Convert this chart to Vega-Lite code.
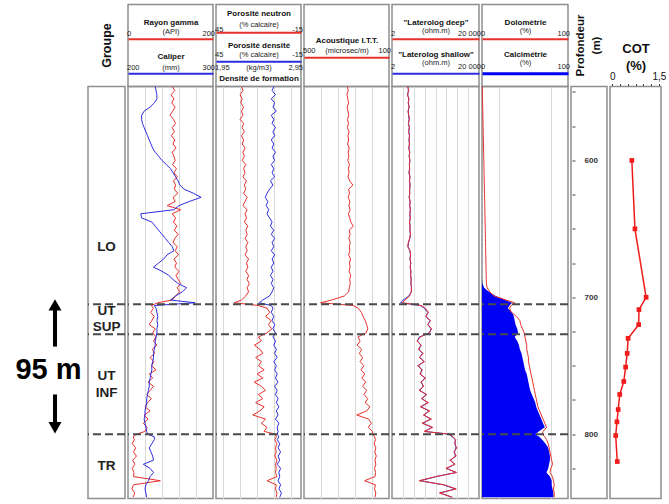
{
  "$schema": "https://vega.github.io/schema/vega-lite/v6.json",
  "padding": {"left": 0, "top": 3.5, "right": 0, "bottom": 0},
  "background": "white",
  "datasets": {
    "logs": [
      {"d":546,"gr":104,"cal":232,"nphi":27,"rhob":2.63,"dt":296,"lld":10.5,"lls":10.8,"dolo":0.3,"calc":0},
      {"d":549,"gr":110,"cal":233,"nphi":26,"rhob":2.61,"dt":292,"lld":11.8,"lls":11.3,"dolo":0.4,"calc":0},
      {"d":552,"gr":101,"cal":234,"nphi":28,"rhob":2.65,"dt":298,"lld":10.2,"lls":10.6,"dolo":0.5,"calc":0},
      {"d":555,"gr":108,"cal":234,"nphi":26.5,"rhob":2.60,"dt":294,"lld":12.1,"lls":11.7,"dolo":0.6,"calc":0},
      {"d":558,"gr":103,"cal":231,"nphi":27.5,"rhob":2.64,"dt":290,"lld":11,"lls":11.4,"dolo":0.7,"calc":0},
      {"d":561,"gr":111,"cal":226,"nphi":25.5,"rhob":2.62,"dt":297,"lld":12.5,"lls":12,"dolo":0.8,"calc":0},
      {"d":564,"gr":105,"cal":219,"nphi":27,"rhob":2.66,"dt":293,"lld":10.8,"lls":11.2,"dolo":0.9,"calc":0},
      {"d":567,"gr":99,"cal":216,"nphi":26,"rhob":2.60,"dt":289,"lld":11.9,"lls":11.5,"dolo":1.0,"calc":0},
      {"d":570,"gr":107,"cal":216,"nphi":28,"rhob":2.63,"dt":295,"lld":12.6,"lls":12.2,"dolo":1.1,"calc":0},
      {"d":573,"gr":112,"cal":217,"nphi":25.5,"rhob":2.61,"dt":291,"lld":11.2,"lls":11.6,"dolo":1.2,"calc":0},
      {"d":576,"gr":104,"cal":219,"nphi":26.5,"rhob":2.65,"dt":296,"lld":12.8,"lls":12.3,"dolo":1.3,"calc":0},
      {"d":579,"gr":109,"cal":221,"nphi":25,"rhob":2.62,"dt":288,"lld":11.5,"lls":11.9,"dolo":1.4,"calc":0},
      {"d":582,"gr":102,"cal":223,"nphi":27,"rhob":2.64,"dt":293,"lld":13,"lls":12.6,"dolo":1.5,"calc":0},
      {"d":585,"gr":110,"cal":225,"nphi":25.5,"rhob":2.60,"dt":290,"lld":12,"lls":12.3,"dolo":1.6,"calc":0},
      {"d":588,"gr":106,"cal":227,"nphi":26.5,"rhob":2.63,"dt":295,"lld":12.9,"lls":12.5,"dolo":1.7,"calc":0},
      {"d":591,"gr":113,"cal":229,"nphi":24.5,"rhob":2.61,"dt":287,"lld":11.7,"lls":12.1,"dolo":1.8,"calc":0},
      {"d":594,"gr":104,"cal":232,"nphi":26,"rhob":2.65,"dt":292,"lld":13.2,"lls":12.8,"dolo":1.9,"calc":0},
      {"d":597,"gr":108,"cal":236,"nphi":25,"rhob":2.62,"dt":289,"lld":12.2,"lls":12.5,"dolo":2.0,"calc":0},
      {"d":600,"gr":111,"cal":240,"nphi":26.5,"rhob":2.64,"dt":294,"lld":13.5,"lls":13.1,"dolo":2.1,"calc":0},
      {"d":603,"gr":105,"cal":245,"nphi":24,"rhob":2.60,"dt":286,"lld":12.4,"lls":12.8,"dolo":2.2,"calc":0},
      {"d":606,"gr":114,"cal":250,"nphi":25.5,"rhob":2.63,"dt":291,"lld":13.1,"lls":12.7,"dolo":2.3,"calc":0},
      {"d":609,"gr":108,"cal":253,"nphi":24.5,"rhob":2.61,"dt":288,"lld":11.9,"lls":12.3,"dolo":2.4,"calc":0},
      {"d":612,"gr":116,"cal":256,"nphi":26,"rhob":2.64,"dt":293,"lld":13.6,"lls":13.2,"dolo":2.5,"calc":0},
      {"d":615,"gr":107,"cal":259,"nphi":23.5,"rhob":2.59,"dt":285,"lld":12.5,"lls":12.9,"dolo":2.6,"calc":0},
      {"d":618,"gr":112,"cal":261,"nphi":25,"rhob":2.62,"dt":270,"lld":13.8,"lls":13.4,"dolo":2.7,"calc":0},
      {"d":621,"gr":109,"cal":266,"nphi":24,"rhob":2.58,"dt":290,"lld":12.7,"lls":13.1,"dolo":2.8,"calc":0},
      {"d":624,"gr":117,"cal":277,"nphi":25.5,"rhob":2.55,"dt":286,"lld":13.3,"lls":12.9,"dolo":2.9,"calc":0},
      {"d":627,"gr":106,"cal":286,"nphi":23,"rhob":2.53,"dt":292,"lld":12.1,"lls":12.5,"dolo":3.0,"calc":0},
      {"d":630,"gr":111,"cal":272,"nphi":24.5,"rhob":2.56,"dt":284,"lld":13.9,"lls":13.5,"dolo":3.1,"calc":0},
      {"d":633,"gr":92,"cal":260,"nphi":26,"rhob":2.54,"dt":289,"lld":12.8,"lls":13.2,"dolo":3.2,"calc":0},
      {"d":636,"gr":124,"cal":254,"nphi":23,"rhob":2.57,"dt":283,"lld":14.2,"lls":13.8,"dolo":3.3,"calc":0},
      {"d":639,"gr":104,"cal":215,"nphi":24.5,"rhob":2.55,"dt":291,"lld":13,"lls":13.4,"dolo":3.4,"calc":0},
      {"d":642,"gr":112,"cal":216,"nphi":23.5,"rhob":2.58,"dt":285,"lld":14,"lls":13.6,"dolo":3.5,"calc":0},
      {"d":645,"gr":107,"cal":228,"nphi":25,"rhob":2.61,"dt":280,"lld":12.6,"lls":13,"dolo":3.6,"calc":0},
      {"d":648,"gr":115,"cal":232,"nphi":22.5,"rhob":2.59,"dt":268,"lld":13.8,"lls":13.4,"dolo":3.7,"calc":0},
      {"d":651,"gr":109,"cal":236,"nphi":24,"rhob":2.63,"dt":287,"lld":13.1,"lls":13.5,"dolo":3.8,"calc":0},
      {"d":654,"gr":118,"cal":240,"nphi":23,"rhob":2.60,"dt":283,"lld":14.3,"lls":13.9,"dolo":3.9,"calc":0},
      {"d":657,"gr":110,"cal":244,"nphi":24.5,"rhob":2.64,"dt":289,"lld":12.9,"lls":13.3,"dolo":4.0,"calc":0},
      {"d":660,"gr":106,"cal":248,"nphi":22.5,"rhob":2.61,"dt":282,"lld":11.2,"lls":11.6,"dolo":4.1,"calc":0},
      {"d":663,"gr":116,"cal":252,"nphi":24,"rhob":2.63,"dt":287,"lld":10.5,"lls":10.9,"dolo":4.2,"calc":0},
      {"d":666,"gr":111,"cal":254,"nphi":23,"rhob":2.60,"dt":284,"lld":13.6,"lls":13.2,"dolo":4.3,"calc":0},
      {"d":669,"gr":119,"cal":246,"nphi":24.5,"rhob":2.64,"dt":290,"lld":14.5,"lls":14.1,"dolo":4.4,"calc":0},
      {"d":672,"gr":108,"cal":242,"nphi":22,"rhob":2.61,"dt":281,"lld":13.2,"lls":13.6,"dolo":4.5,"calc":0},
      {"d":675,"gr":114,"cal":236,"nphi":23.5,"rhob":2.63,"dt":286,"lld":14.8,"lls":14.4,"dolo":4.6,"calc":0},
      {"d":678,"gr":110,"cal":230,"nphi":22.5,"rhob":2.60,"dt":283,"lld":13.5,"lls":13.9,"dolo":4.7,"calc":0},
      {"d":681,"gr":120,"cal":240,"nphi":24,"rhob":2.62,"dt":288,"lld":15,"lls":14.6,"dolo":4.8,"calc":0},
      {"d":684,"gr":113,"cal":248,"nphi":22,"rhob":2.59,"dt":280,"lld":14.1,"lls":14.5,"dolo":4.9,"calc":0},
      {"d":687,"gr":118,"cal":253,"nphi":23,"rhob":2.62,"dt":285,"lld":15.5,"lls":15.1,"dolo":5.0,"calc":0},
      {"d":690,"gr":124,"cal":259,"nphi":21.5,"rhob":2.60,"dt":282,"lld":14.6,"lls":15,"dolo":5.2,"calc":0.5},
      {"d":693,"gr":116,"cal":269,"nphi":23,"rhob":2.63,"dt":287,"lld":16,"lls":15.6,"dolo":6,"calc":2.5},
      {"d":696,"gr":121,"cal":264,"nphi":22,"rhob":2.61,"dt":290,"lld":15.2,"lls":15.6,"dolo":9,"calc":8},
      {"d":699,"gr":112,"cal":256,"nphi":24,"rhob":2.58,"dt":310,"lld":13,"lls":12,"dolo":14,"calc":16},
      {"d":702,"gr":104,"cal":250,"nphi":27,"rhob":2.50,"dt":370,"lld":8,"lls":6.5,"dolo":28,"calc":27},
      {"d":704,"gr":70,"cal":279,"nphi":32,"rhob":2.46,"dt":422,"lld":6,"lls":5,"dolo":38,"calc":35},
      {"d":706,"gr":55,"cal":231,"nphi":15,"rhob":2.60,"dt":268,"lld":45,"lls":40,"dolo":34,"calc":32},
      {"d":708,"gr":60,"cal":233,"nphi":9,"rhob":2.62,"dt":245,"lld":68,"lls":62,"dolo":32,"calc":30},
      {"d":711,"gr":53,"cal":234,"nphi":7,"rhob":2.60,"dt":230,"lld":95,"lls":88,"dolo":34,"calc":35},
      {"d":714,"gr":62,"cal":235,"nphi":10,"rhob":2.63,"dt":222,"lld":70,"lls":75,"dolo":40,"calc":37},
      {"d":717,"gr":56,"cal":234,"nphi":6,"rhob":2.61,"dt":212,"lld":120,"lls":110,"dolo":44,"calc":38},
      {"d":720,"gr":50,"cal":235,"nphi":8,"rhob":2.64,"dt":205,"lld":85,"lls":92,"dolo":45,"calc":39},
      {"d":723,"gr":64,"cal":234,"nphi":5.5,"rhob":2.62,"dt":200,"lld":135,"lls":125,"dolo":47,"calc":41},
      {"d":726,"gr":58,"cal":234,"nphi":9,"rhob":2.65,"dt":208,"lld":100,"lls":108,"dolo":49,"calc":42},
      {"d":729,"gr":66,"cal":233,"nphi":15,"rhob":2.62,"dt":246,"lld":40,"lls":36,"dolo":50,"calc":38},
      {"d":732,"gr":60,"cal":232,"nphi":13,"rhob":2.65,"dt":236,"lld":28,"lls":30,"dolo":51,"calc":41},
      {"d":735,"gr":68,"cal":232,"nphi":18,"rhob":2.63,"dt":250,"lld":45,"lls":42,"dolo":52,"calc":43},
      {"d":738,"gr":57,"cal":231,"nphi":14,"rhob":2.66,"dt":228,"lld":32,"lls":35,"dolo":52,"calc":44},
      {"d":741,"gr":63,"cal":230,"nphi":12,"rhob":2.64,"dt":240,"lld":55,"lls":50,"dolo":53,"calc":46},
      {"d":744,"gr":52,"cal":230,"nphi":17,"rhob":2.67,"dt":224,"lld":36,"lls":39,"dolo":54,"calc":47},
      {"d":747,"gr":61,"cal":229,"nphi":13,"rhob":2.63,"dt":236,"lld":62,"lls":58,"dolo":54,"calc":48},
      {"d":750,"gr":55,"cal":228,"nphi":15,"rhob":2.66,"dt":218,"lld":30,"lls":33,"dolo":55,"calc":49},
      {"d":753,"gr":66,"cal":228,"nphi":11,"rhob":2.64,"dt":232,"lld":50,"lls":46,"dolo":56,"calc":50},
      {"d":756,"gr":50,"cal":227,"nphi":16,"rhob":2.67,"dt":214,"lld":38,"lls":41,"dolo":57,"calc":52},
      {"d":759,"gr":58,"cal":226,"nphi":12,"rhob":2.65,"dt":228,"lld":70,"lls":64,"dolo":58,"calc":53},
      {"d":762,"gr":47,"cal":225,"nphi":18,"rhob":2.68,"dt":210,"lld":42,"lls":45,"dolo":59,"calc":54},
      {"d":765,"gr":60,"cal":225,"nphi":13,"rhob":2.64,"dt":224,"lld":58,"lls":54,"dolo":60,"calc":55},
      {"d":768,"gr":52,"cal":224,"nphi":10,"rhob":2.67,"dt":205,"lld":35,"lls":38,"dolo":61,"calc":56},
      {"d":771,"gr":44,"cal":223,"nphi":15,"rhob":2.65,"dt":218,"lld":80,"lls":74,"dolo":62,"calc":58},
      {"d":774,"gr":55,"cal":222,"nphi":12,"rhob":2.68,"dt":200,"lld":45,"lls":48,"dolo":63,"calc":60},
      {"d":777,"gr":46,"cal":222,"nphi":17,"rhob":2.66,"dt":212,"lld":95,"lls":88,"dolo":64,"calc":62},
      {"d":780,"gr":40,"cal":221,"nphi":11,"rhob":2.69,"dt":190,"lld":40,"lls":43,"dolo":65,"calc":63},
      {"d":783,"gr":52,"cal":220,"nphi":14,"rhob":2.66,"dt":205,"lld":110,"lls":100,"dolo":67,"calc":65},
      {"d":786,"gr":38,"cal":220,"nphi":19,"rhob":2.68,"dt":252,"lld":55,"lls":59,"dolo":69,"calc":67},
      {"d":789,"gr":47,"cal":219,"nphi":10,"rhob":2.65,"dt":196,"lld":130,"lls":120,"dolo":71,"calc":69},
      {"d":792,"gr":36,"cal":220,"nphi":13,"rhob":2.69,"dt":183,"lld":48,"lls":52,"dolo":73,"calc":71},
      {"d":795,"gr":45,"cal":221,"nphi":9,"rhob":2.67,"dt":198,"lld":150,"lls":138,"dolo":75,"calc":73},
      {"d":798,"gr":40,"cal":222,"nphi":11,"rhob":2.68,"dt":178,"lld":60,"lls":65,"dolo":71,"calc":66},
      {"d":800,"gr":20,"cal":223,"nphi":3,"rhob":2.67,"dt":175,"lld":900,"lls":800,"dolo":70,"calc":62},
      {"d":802,"gr":12,"cal":231,"nphi":2.5,"rhob":2.69,"dt":168,"lld":1300,"lls":1200,"dolo":73,"calc":67},
      {"d":804,"gr":15,"cal":231,"nphi":3.5,"rhob":2.67,"dt":164,"lld":1700,"lls":1600,"dolo":75,"calc":70},
      {"d":807,"gr":10,"cal":228,"nphi":2,"rhob":2.70,"dt":170,"lld":1500,"lls":1600,"dolo":77,"calc":74},
      {"d":810,"gr":18,"cal":225,"nphi":3,"rhob":2.68,"dt":162,"lld":1900,"lls":1750,"dolo":78,"calc":77},
      {"d":813,"gr":13,"cal":227,"nphi":2.5,"rhob":2.71,"dt":167,"lld":1400,"lls":1500,"dolo":79,"calc":78},
      {"d":816,"gr":20,"cal":229,"nphi":3.5,"rhob":2.68,"dt":160,"lld":1800,"lls":1650,"dolo":80,"calc":79},
      {"d":819,"gr":11,"cal":230,"nphi":2,"rhob":2.70,"dt":166,"lld":900,"lls":1000,"dolo":81,"calc":79},
      {"d":822,"gr":16,"cal":218,"nphi":3,"rhob":2.67,"dt":162,"lld":1600,"lls":1500,"dolo":82,"calc":78},
      {"d":825,"gr":10,"cal":226,"nphi":2.5,"rhob":2.71,"dt":168,"lld":600,"lls":650,"dolo":80,"calc":77},
      {"d":828,"gr":14,"cal":230,"nphi":3,"rhob":2.69,"dt":163,"lld":1900,"lls":1750,"dolo":79,"calc":75},
      {"d":831,"gr":13,"cal":226,"nphi":2,"rhob":2.70,"dt":166,"lld":200,"lls":220,"dolo":82,"calc":79},
      {"d":834,"gr":76,"cal":224,"nphi":9,"rhob":2.68,"dt":215,"lld":35,"lls":40,"dolo":83,"calc":81},
      {"d":837,"gr":13,"cal":221,"nphi":2.5,"rhob":2.71,"dt":164,"lld":500,"lls":450,"dolo":84,"calc":81},
      {"d":840,"gr":9,"cal":220,"nphi":3,"rhob":2.69,"dt":168,"lld":1800,"lls":1650,"dolo":83,"calc":82},
      {"d":843,"gr":16,"cal":221,"nphi":2,"rhob":2.72,"dt":162,"lld":300,"lls":330,"dolo":84,"calc":83},
      {"d":846,"gr":12,"cal":222,"nphi":2.5,"rhob":2.70,"dt":166,"lld":1200,"lls":1100,"dolo":84,"calc":83}
    ],
    "tops": [{"d": 705}, {"d": 727}, {"d": 800}],
    "units": [
      {"name": "LO", "d": 663},
      {"name": "UT SUP", "d": 709.7},
      {"name": "UT INF", "d": 757.7},
      {"name": "TR", "d": 823.5}
    ],
    "cot": [
      {"d": 600, "cot": 0.63}, {"d": 650, "cot": 0.73}, {"d": 700, "cot": 1.09},
      {"d": 709, "cot": 0.86}, {"d": 720, "cot": 0.85}, {"d": 730, "cot": 0.51},
      {"d": 741, "cot": 0.48}, {"d": 751, "cot": 0.43}, {"d": 761.5, "cot": 0.37},
      {"d": 771, "cot": 0.24}, {"d": 782, "cot": 0.19}, {"d": 791, "cot": 0.15},
      {"d": 801, "cot": 0.11}, {"d": 820, "cot": 0.16}
    ],
    "interval": [{"label": "95 m", "d": 753.1, "top": 705, "base": 800}],
    "arrows": [
      {"dir": "up", "from": 736, "to": 705.6},
      {"dir": "down", "from": 771, "to": 795.3}
    ]
  },
  "columns": 9,
  "spacing": {"row": 0, "column": 3},
  "bounds": "flush",
  "align": "each",
  "concat": [
    {"width": 85, "height": 82, "view": {"stroke": null}, "data": {"values": [{}]}, "mark": {"type": "text", "text": ""}},
    {"width": 37, "height": 82, "data": {"values": [{}]},
     "mark": {"type": "text", "text": "Groupe", "angle": 270, "fontSize": 12.5, "fontWeight": "bold", "color": "#111"}},
    {"width": 85, "height": 82, "data": {"name": "logs"},
     "layer": [
       {"mark": {"type": "point", "opacity": 0, "size": 0},
        "encoding": {"y": {"field": "d", "type": "quantitative", "scale": {"domain": [0, 1400], "nice": false, "zero": false}, "axis": null},
          "x": {"field": "gr", "type": "quantitative", "scale": {"domain": [0, 200], "nice": false, "zero": false},
          "axis": {"orient": "top", "offset": -34.3, "values": [0, 100, 200], "labelExpr": "datum.value == 100 ? '(API)' : datum.label",
            "labelLineHeight": 9, "labelBaseline": {"condition": {"test": "datum.value == 100", "value": "line-bottom"}, "value": "alphabetic"},
            "labelFlush": true, "labelFlushOffset": 1.5, "labelOverlap": false, "labelPadding": 3.6,
            "ticks": false, "tickSize": 0, "grid": false, "domainColor": "#e8302c", "domainWidth": 2,
            "title": "Rayon gamma", "titleBaseline": "alphabetic", "titleY": -14.7}}}},
       {"mark": {"type": "point", "opacity": 0, "size": 0},
        "encoding": {"y": {"field": "d", "type": "quantitative"},
          "x": {"field": "cal", "type": "quantitative", "scale": {"domain": [200, 300], "nice": false, "zero": false},
          "axis": {"orient": "top", "offset": -68.7, "values": [200, 250, 300], "labelExpr": "datum.value == 250 ? '(mm)' : datum.label",
            "labelFlush": true, "labelFlushOffset": 1.5, "labelOverlap": false, "labelBaseline": "alphabetic", "labelPadding": 4,
            "ticks": false, "tickSize": 0, "grid": false, "domainColor": "#2d2de0", "domainWidth": 2,
            "title": "Caliper", "titleBaseline": "alphabetic", "titleY": -14.8}}}}
     ],
     "resolve": {"scale": {"x": "independent"}, "axis": {"x": "independent"}}},
    {"width": 85, "height": 82, "data": {"name": "logs"},
     "layer": [
       {"mark": {"type": "point", "opacity": 0, "size": 0},
        "encoding": {"y": {"field": "d", "type": "quantitative", "scale": {"domain": [0, 1400], "nice": false, "zero": false}, "axis": null},
          "x": {"field": "nphi", "type": "quantitative", "scale": {"domain": [-15, 45], "reverse": true, "nice": false, "zero": false},
          "axis": {"orient": "top", "offset": -27.7, "values": [-15, 15, 45], "labelExpr": "datum.value == 15 ? '(% calcaire)' : (datum.value < 0 ? '-15' : '45')",
            "labelLineHeight": 14.5, "labelBaseline": {"condition": {"test": "datum.value == 15", "value": "line-bottom"}, "value": "alphabetic"},
            "labelFlush": true, "labelFlushOffset": 1.5, "labelOverlap": false, "labelPadding": 1.2,
            "ticks": false, "tickSize": 0, "grid": false, "domainColor": "#e8302c", "domainWidth": 2,
            "title": "Porosité neutron", "titleBaseline": "alphabetic", "titleY": -16.3}}}},
       {"mark": {"type": "point", "opacity": 0, "size": 0},
        "encoding": {"y": {"field": "d", "type": "quantitative"},
          "x": {"field": "rhob", "type": "quantitative", "scale": {"domain": [1.95, 2.95], "nice": false, "zero": false},
          "axis": {"orient": "top", "offset": -56.7, "values": [1.95, 2.45, 2.95], "labelExpr": "datum.value < 2.2 ? '45' : (datum.value > 2.7 ? '-15' : '(% calcaire)')",
            "labelFlush": true, "labelFlushOffset": 1.5, "labelOverlap": false, "labelBaseline": "alphabetic", "labelPadding": 4.5,
            "ticks": false, "tickSize": 0, "grid": false, "domainColor": "#2d2de0", "domainWidth": 2,
            "title": "Porosité densité", "titleBaseline": "alphabetic", "titleY": -13.5}}}},
       {"mark": {"type": "point", "opacity": 0, "size": 0},
        "encoding": {"y": {"field": "d", "type": "quantitative"},
          "x": {"field": "rhob", "type": "quantitative", "scale": {"domain": [1.95, 2.95], "nice": false, "zero": false},
          "axis": {"orient": "bottom", "offset": -25.3, "values": [1.95, 2.45, 2.95], "labelExpr": "datum.value < 2.2 ? '1,95' : (datum.value > 2.7 ? '2,95' : '(kg/m3)')",
            "labelFlush": true, "labelFlushOffset": 1.5, "labelOverlap": false, "labelBaseline": "alphabetic", "labelPadding": 8.7,
            "ticks": false, "tickSize": 0, "grid": false, "domain": false,
            "title": "Densité de formation", "titleBaseline": "alphabetic", "titleY": 18.9}}}}
     ],
     "resolve": {"scale": {"x": "independent"}, "axis": {"x": "independent"}}},
    {"width": 85, "height": 82, "data": {"name": "logs"},
     "mark": {"type": "point", "opacity": 0, "size": 0},
     "encoding": {"y": {"field": "d", "type": "quantitative", "scale": {"domain": [0, 1400], "nice": false, "zero": false}, "axis": null},
       "x": {"field": "dt", "type": "quantitative", "scale": {"domain": [100, 500], "reverse": true, "nice": false, "zero": false},
       "axis": {"orient": "top", "offset": -52.7, "values": [100, 300, 500], "labelExpr": "datum.value == 300 ? '(microsec/m)' : datum.label",
         "labelFlush": true, "labelFlushOffset": 1.5, "labelOverlap": false, "labelBaseline": "alphabetic", "labelPadding": 4.7,
         "ticks": false, "tickSize": 0, "grid": false, "domainColor": "#e8302c", "domainWidth": 2,
         "title": "Acoustique I.T.T.", "titleBaseline": "alphabetic", "titleY": -14.5}}}},
    {"width": 87, "height": 82, "data": {"name": "logs"},
     "layer": [
       {"mark": {"type": "point", "opacity": 0, "size": 0},
        "encoding": {"y": {"field": "d", "type": "quantitative", "scale": {"domain": [0, 1400], "nice": false, "zero": false}, "axis": null},
          "x": {"field": "lld", "type": "quantitative", "scale": {"type": "log", "domain": [2, 20000], "nice": false},
          "axis": {"orient": "top", "offset": -34.3, "values": [2, 200, 20000], "labelExpr": "datum.value == 200 ? '(ohm.m)' : (datum.value > 1000 ? '20 000' : '2')",
            "labelLineHeight": 11, "labelBaseline": {"condition": {"test": "datum.value == 200", "value": "line-bottom"}, "value": "alphabetic"},
            "labelFlush": true, "labelFlushOffset": 1.5, "labelOverlap": false, "labelPadding": 3.3,
            "ticks": false, "tickSize": 0, "grid": false, "domainColor": "#e8302c", "domainWidth": 2,
            "title": "\"Laterolog deep\"", "titleBaseline": "alphabetic", "titleY": -14.7}}}},
       {"mark": {"type": "point", "opacity": 0, "size": 0},
        "encoding": {"y": {"field": "d", "type": "quantitative"},
          "x": {"field": "lls", "type": "quantitative", "scale": {"type": "log", "domain": [2, 20000], "nice": false},
          "axis": {"orient": "top", "offset": -68.7, "values": [2, 200, 20000], "labelExpr": "datum.value == 200 ? '(ohm.m)' : (datum.value > 1000 ? '20 000' : '2')",
            "labelLineHeight": 12, "labelBaseline": {"condition": {"test": "datum.value == 200", "value": "line-bottom"}, "value": "alphabetic"},
            "labelFlush": true, "labelFlushOffset": 1.5, "labelOverlap": false, "labelPadding": 4.3,
            "ticks": false, "tickSize": 0, "grid": false, "domainColor": "#2d2de0", "domainWidth": 2,
            "title": "\"Laterolog shallow\"", "titleBaseline": "alphabetic", "titleY": -16.3}}}}
     ],
     "resolve": {"scale": {"x": "independent"}, "axis": {"x": "independent"}}},
    {"width": 86, "height": 82, "data": {"name": "logs"},
     "layer": [
       {"mark": {"type": "point", "opacity": 0, "size": 0},
        "encoding": {"y": {"field": "d", "type": "quantitative", "scale": {"domain": [0, 1400], "nice": false, "zero": false}, "axis": null},
          "x": {"field": "dolo", "type": "quantitative", "scale": {"domain": [0, 100], "nice": false, "zero": false},
          "axis": {"orient": "top", "offset": -34.3, "values": [0, 50, 100], "labelExpr": "datum.value == 50 ? '(%)' : datum.label",
            "labelLineHeight": 11, "labelBaseline": {"condition": {"test": "datum.value == 50", "value": "line-bottom"}, "value": "alphabetic"},
            "labelFlush": true, "labelFlushOffset": 1.5, "labelOverlap": false, "labelPadding": 3.3,
            "ticks": false, "tickSize": 0, "grid": false, "domainColor": "#e8302c", "domainWidth": 2,
            "title": "Dolomètrie", "titleBaseline": "alphabetic", "titleY": -14.7}}}},
       {"mark": {"type": "point", "opacity": 0, "size": 0},
        "encoding": {"y": {"field": "d", "type": "quantitative"},
          "x": {"field": "calc", "type": "quantitative", "scale": {"domain": [0, 100], "nice": false, "zero": false},
          "axis": {"orient": "top", "offset": -68.7, "values": [0, 50, 100], "labelExpr": "datum.value == 50 ? '(%)' : datum.label",
            "labelLineHeight": 12, "labelBaseline": {"condition": {"test": "datum.value == 50", "value": "line-bottom"}, "value": "alphabetic"},
            "labelFlush": true, "labelFlushOffset": 1.5, "labelOverlap": false, "labelPadding": 4.3,
            "ticks": false, "tickSize": 0, "grid": false, "domainColor": "#0000f5", "domainWidth": 3,
            "title": "Calcimétrie", "titleBaseline": "alphabetic", "titleY": -16.3}}}}
     ],
     "resolve": {"scale": {"x": "independent"}, "axis": {"x": "independent"}}},
    {"width": 36, "height": 82, "data": {"values": [{}]},
     "mark": {"type": "text", "text": ["Profondeur", "(m)"], "angle": 270, "fontSize": 11.5, "fontWeight": "bold", "lineHeight": 15.7, "dy": -7.8, "color": "#111"}},
    {"width": 51, "height": 82, "view": {"stroke": null}, "data": {"name": "cot"},
     "mark": {"type": "point", "opacity": 0, "size": 0},
     "encoding": {"y": {"field": "d", "type": "quantitative", "scale": {"domain": [0, 1400], "nice": false, "zero": false}, "axis": null},
       "x": {"field": "cot", "type": "quantitative", "scale": {"domain": [-0.074, 1.57], "nice": false, "zero": false},
       "axis": {"orient": "top", "offset": -82, "values": [0, 0.25, 0.5, 0.75, 1, 1.25, 1.5],
         "labelExpr": "datum.value == 0 ? '0' : (datum.value == 1.5 ? '1,5' : '')",
         "domain": false, "ticks": true, "tickSize": 3, "tickColor": "#333", "tickWidth": 1,
         "labelFontSize": 10, "labelColor": "#111", "labelBaseline": "alphabetic", "labelPadding": 4.4, "labelFlush": false, "labelOverlap": false, "grid": false,
         "title": ["COT", "(%)"], "titleFontSize": 13, "titleLineHeight": 17, "titleBaseline": "alphabetic", "titleY": -34.3}}}},

    {"width": 85, "height": 412, "view": {"stroke": null},
     "layer": [
       {"data": {"name": "arrows"}, "mark": {"type": "rule", "strokeWidth": 4, "color": "#000", "xOffset": 12.5},
        "encoding": {"y": {"field": "from", "type": "quantitative", "scale": {"domain": [546, 847], "reverse": true, "nice": false, "zero": false}, "axis": null},
                     "y2": {"field": "to"}}},
       {"data": {"name": "arrows"}, "mark": {"type": "point", "filled": true, "opacity": 1, "color": "#000", "size": 170, "xOffset": 12.5},
        "encoding": {"y": {"field": "to", "type": "quantitative", "scale": {"domain": [546, 847], "reverse": true, "nice": false, "zero": false}, "axis": null},
                     "shape": {"field": "dir", "type": "nominal", "scale": {"domain": ["up", "down"], "range": ["triangle-up", "triangle-down"]}, "legend": null}}},
       {"data": {"name": "interval"}, "mark": {"type": "text", "fontSize": 29, "fontWeight": "bold", "dx": 6, "color": "#000"},
        "encoding": {"y": {"field": "d", "type": "quantitative", "scale": {"domain": [546, 847], "reverse": true, "nice": false, "zero": false}, "axis": null},
                     "text": {"field": "label"}}}
     ]},
    {"width": 37, "height": 412,
     "layer": [
       {"data": {"name": "tops"}, "mark": {"type": "rule", "strokeDash": [8, 4], "strokeWidth": 2, "color": "#4a4a4a"},
        "encoding": {"y": {"field": "d", "type": "quantitative", "scale": {"domain": [546, 847], "reverse": true, "nice": false, "zero": false}, "axis": null}}},
       {"data": {"name": "units"}, "mark": {"type": "text", "fontSize": 13.5, "fontWeight": "bold", "lineBreak": " ", "lineHeight": 16.5, "color": "#222"},
        "encoding": {"y": {"field": "d", "type": "quantitative", "scale": {"domain": [546, 847], "reverse": true, "nice": false, "zero": false}, "axis": null},
                     "text": {"field": "name"}}}
     ]},
    {"width": 85, "height": 412,
     "layer": [
       {"data": {"name": "logs"}, "mark": {"type": "line", "color": "#e8302c", "strokeWidth": 1},
        "encoding": {"y": {"field": "d", "type": "quantitative", "scale": {"domain": [546, 847], "reverse": true, "nice": false, "zero": false}, "axis": null},
                     "x": {"field": "gr", "type": "quantitative", "scale": {"domain": [0, 200], "nice": false, "zero": false},
                           "axis": {"orient": "top", "grid": true, "values": [40, 80, 120, 160], "labels": false, "ticks": false, "domain": false, "title": null, "gridColor": "#d9d9d9"}},
                     "order": {"field": "d", "type": "quantitative"}}},
       {"data": {"name": "logs"}, "mark": {"type": "line", "color": "#2d2de0", "strokeWidth": 1},
        "encoding": {"y": {"field": "d", "type": "quantitative", "scale": {"domain": [546, 847], "reverse": true, "nice": false, "zero": false}, "axis": null},
                     "x": {"field": "cal", "type": "quantitative", "scale": {"domain": [200, 300], "nice": false, "zero": false}, "axis": null},
                     "order": {"field": "d", "type": "quantitative"}}},
       {"data": {"name": "tops"}, "mark": {"type": "rule", "strokeDash": [8, 4], "strokeWidth": 2, "color": "#4a4a4a"},
        "encoding": {"y": {"field": "d", "type": "quantitative", "scale": {"domain": [546, 847], "reverse": true, "nice": false, "zero": false}, "axis": null}}}
     ],
     "resolve": {"scale": {"x": "independent"}, "axis": {"x": "independent"}}},
    {"width": 85, "height": 412,
     "layer": [
       {"data": {"name": "logs"}, "mark": {"type": "line", "color": "#e8302c", "strokeWidth": 1},
        "encoding": {"y": {"field": "d", "type": "quantitative", "scale": {"domain": [546, 847], "reverse": true, "nice": false, "zero": false}, "axis": null},
                     "x": {"field": "nphi", "type": "quantitative", "scale": {"domain": [-15, 45], "reverse": true, "nice": false, "zero": false},
                           "axis": {"orient": "top", "grid": true, "values": [40, 28, 16, 4, -8], "labels": false, "ticks": false, "domain": false, "title": null, "gridColor": "#d9d9d9"}},
                     "order": {"field": "d", "type": "quantitative"}}},
       {"data": {"name": "logs"}, "mark": {"type": "line", "color": "#2d2de0", "strokeWidth": 1},
        "encoding": {"y": {"field": "d", "type": "quantitative", "scale": {"domain": [546, 847], "reverse": true, "nice": false, "zero": false}, "axis": null},
                     "x": {"field": "rhob", "type": "quantitative", "scale": {"domain": [1.95, 2.95], "nice": false, "zero": false}, "axis": null},
                     "order": {"field": "d", "type": "quantitative"}}},
       {"data": {"name": "tops"}, "mark": {"type": "rule", "strokeDash": [8, 4], "strokeWidth": 2, "color": "#4a4a4a"},
        "encoding": {"y": {"field": "d", "type": "quantitative", "scale": {"domain": [546, 847], "reverse": true, "nice": false, "zero": false}, "axis": null}}}
     ],
     "resolve": {"scale": {"x": "independent"}, "axis": {"x": "independent"}}},
    {"width": 85, "height": 412,
     "layer": [
       {"data": {"name": "logs"}, "mark": {"type": "line", "color": "#e8302c", "strokeWidth": 1},
        "encoding": {"y": {"field": "d", "type": "quantitative", "scale": {"domain": [546, 847], "reverse": true, "nice": false, "zero": false}, "axis": null},
                     "x": {"field": "dt", "type": "quantitative", "scale": {"domain": [100, 500], "reverse": true, "nice": false, "zero": false},
                           "axis": {"orient": "top", "grid": true, "values": [420, 340, 260, 180], "labels": false, "ticks": false, "domain": false, "title": null, "gridColor": "#d9d9d9"}},
                     "order": {"field": "d", "type": "quantitative"}}},
       {"data": {"name": "tops"}, "mark": {"type": "rule", "strokeDash": [8, 4], "strokeWidth": 2, "color": "#4a4a4a"},
        "encoding": {"y": {"field": "d", "type": "quantitative", "scale": {"domain": [546, 847], "reverse": true, "nice": false, "zero": false}, "axis": null}}}
     ]},
    {"width": 87, "height": 412,
     "layer": [
       {"data": {"name": "logs"}, "mark": {"type": "line", "color": "#2d2de0", "strokeWidth": 1},
        "encoding": {"y": {"field": "d", "type": "quantitative", "scale": {"domain": [546, 847], "reverse": true, "nice": false, "zero": false}, "axis": null},
                     "x": {"field": "lls", "type": "quantitative", "scale": {"type": "log", "domain": [2, 20000], "nice": false},
                           "axis": {"orient": "top", "grid": true, "values": [6.32, 20, 63.2, 200, 632, 2000, 6320], "labels": false, "ticks": false, "domain": false, "title": null, "gridColor": "#dcdcdc"}},
                     "order": {"field": "d", "type": "quantitative"}}},
       {"data": {"name": "logs"}, "mark": {"type": "line", "color": "#e8302c", "strokeWidth": 1},
        "encoding": {"y": {"field": "d", "type": "quantitative", "scale": {"domain": [546, 847], "reverse": true, "nice": false, "zero": false}, "axis": null},
                     "x": {"field": "lld", "type": "quantitative"},
                     "order": {"field": "d", "type": "quantitative"}}},
       {"data": {"name": "tops"}, "mark": {"type": "rule", "strokeDash": [8, 4], "strokeWidth": 2, "color": "#4a4a4a"},
        "encoding": {"y": {"field": "d", "type": "quantitative", "scale": {"domain": [546, 847], "reverse": true, "nice": false, "zero": false}, "axis": null}}}
     ]},
    {"width": 86, "height": 412,
     "layer": [
       {"data": {"name": "logs"}, "mark": {"type": "area", "orient": "horizontal", "color": "#0000f5"},
        "encoding": {"y": {"field": "d", "type": "quantitative", "scale": {"domain": [546, 847], "reverse": true, "nice": false, "zero": false}, "axis": null},
                     "x": {"field": "calc", "type": "quantitative", "scale": {"domain": [0, 100], "nice": false, "zero": true},
                           "axis": {"orient": "top", "grid": true, "values": [20, 40, 60, 80], "labels": false, "ticks": false, "domain": false, "title": null, "gridColor": "#d9d9d9"}}}},
       {"data": {"name": "logs"}, "mark": {"type": "line", "color": "#e8302c", "strokeWidth": 1},
        "encoding": {"y": {"field": "d", "type": "quantitative", "scale": {"domain": [546, 847], "reverse": true, "nice": false, "zero": false}, "axis": null},
                     "x": {"field": "dolo", "type": "quantitative"},
                     "order": {"field": "d", "type": "quantitative"}}},
       {"data": {"name": "tops"}, "mark": {"type": "rule", "strokeDash": [8, 4], "strokeWidth": 2, "color": "#4a4a4a"},
        "encoding": {"y": {"field": "d", "type": "quantitative", "scale": {"domain": [546, 847], "reverse": true, "nice": false, "zero": false}, "axis": null}}}
     ]},
    {"width": 36, "height": 412, "data": {"name": "tops"},
     "mark": {"type": "rule", "opacity": 0},
     "encoding": {"y": {"field": "d", "type": "quantitative", "scale": {"domain": [546, 847], "reverse": true, "nice": false, "zero": false},
       "axis": {"orient": "right", "offset": -35, "values": [550, 575, 600, 625, 650, 675, 700, 725, 750, 775, 800, 825],
         "labelExpr": "datum.value % 100 == 0 ? datum.label : ''", "domain": false, "ticks": true, "tickSize": 3, "tickColor": "#444", "tickWidth": 1,
         "labelPadding": 9, "labelFontSize": 8, "labelFontWeight": "bold", "labelColor": "#333", "labelFlush": false, "labelOverlap": false, "grid": false, "title": null}}}},
    {"width": 51, "height": 412, "data": {"name": "cot"},
     "layer": [
       {"mark": {"type": "line", "color": "#f01c1c", "strokeWidth": 1.5},
        "encoding": {"y": {"field": "d", "type": "quantitative", "scale": {"domain": [546, 847], "reverse": true, "nice": false, "zero": false}, "axis": null},
                     "x": {"field": "cot", "type": "quantitative", "scale": {"domain": [-0.074, 1.57], "nice": false, "zero": false}, "axis": null},
                     "order": {"field": "d", "type": "quantitative"}}},
       {"mark": {"type": "square", "color": "#f01c1c", "filled": true, "opacity": 1, "size": 22},
        "encoding": {"y": {"field": "d", "type": "quantitative"},
                     "x": {"field": "cot", "type": "quantitative"}}}
     ]}
  ],
  "config": {
    "font": "Liberation Sans",
    "view": {"stroke": "#8e8e8e", "strokeWidth": 1.5},
    "axis": {"labelFont": "Liberation Sans", "titleFont": "Liberation Sans", "labelFontSize": 7.5, "labelColor": "#1a1a1a",
             "titleFontSize": 8, "titleFontWeight": "bold", "titleColor": "#111"},
    "text": {"font": "Liberation Sans"}
  }
}
